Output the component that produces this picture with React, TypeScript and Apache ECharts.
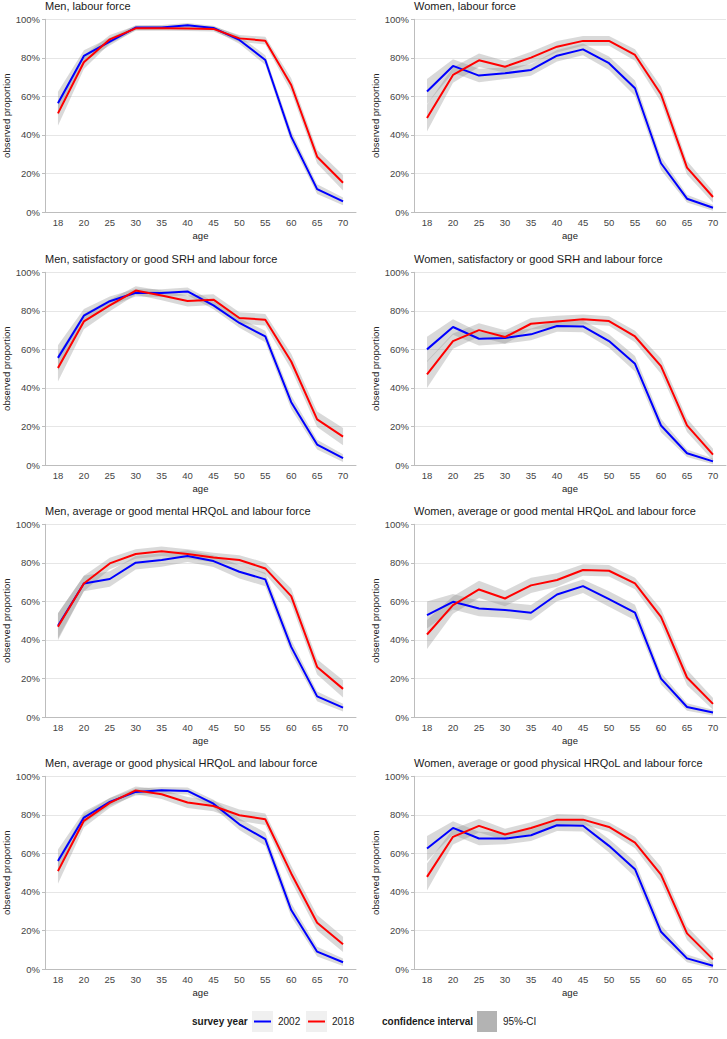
import React, { useEffect, useRef } from "react";
import * as echarts from "echarts";

const ages = ["18", "20", "25", "30", "35", "40", "45", "50", "55", "60", "65", "70"];
const yTicks = [0, 20, 40, 60, 80, 100];

const titles = [
  "Men, labour force",
  "Women, labour force",
  "Men, satisfactory or good SRH and labour force",
  "Women, satisfactory or good SRH and labour force",
  "Men, average or good mental HRQoL and labour force",
  "Women, average or good mental HRQoL and labour force",
  "Men, average or good physical HRQoL and labour force",
  "Women, average or good physical HRQoL and labour force",
];

// observed proportion (%) by age, survey 2002 (blue) and 2018 (red)
const menLF2002 = [56.4, 81, 88.4, 95.7, 95.8, 96.9, 95.5, 89.3, 78.9, 39.1, 11.9, 5.5];
const menLF2018 = [51.2, 77.7, 89.6, 95.3, 95.3, 95.2, 95, 90.1, 88.9, 65.9, 28.7, 15.2];
const womenLF2002 = [62.5, 75.8, 70.8, 72, 73.7, 81.1, 84.4, 77.2, 64.2, 25.3, 6.9, 2.2];
const womenLF2018 = [48.8, 71.1, 78.7, 75.4, 80.1, 85.8, 88.8, 88.8, 81.5, 61.1, 23, 7.8];
const menSRH2002 = [55.6, 77.5, 85, 89.4, 89.2, 90.1, 82.8, 73.7, 66.7, 32.6, 10.6, 3.6];
const menSRH2018 = [50.3, 74.5, 82.8, 90.5, 88, 85.1, 85.8, 76.3, 75.4, 53.7, 23.7, 14.7];
const womenSRH2002 = [60, 71.6, 65.5, 65.9, 67.8, 72.1, 71.9, 64.3, 52.5, 20.5, 6.1, 1.9];
const womenSRH2018 = [47, 64.3, 70, 66.4, 73.3, 74.5, 75.6, 74.7, 66.7, 51.3, 20.6, 5.4];
const menMental2002 = [47.3, 69.3, 71.6, 80.1, 81.5, 83.5, 80.9, 75.4, 71.4, 36.4, 10.7, 4.9];
const menMental2018 = [46.8, 69.3, 79.7, 84.6, 86, 84.6, 82.8, 81.5, 77.1, 62.7, 26, 14.6];
const womenMental2002 = [52.9, 59.8, 56.3, 55.5, 54.1, 63.6, 67.9, 61.2, 54.2, 19.9, 5.2, 2.3];
const womenMental2018 = [42.8, 58.1, 66.2, 61.5, 68.3, 71.1, 76.3, 75.9, 69.3, 52, 20.5, 6.8];
const menPhys2002 = [56, 78.6, 86.7, 91.9, 92.7, 92.4, 85.8, 75.1, 67.4, 30.6, 9, 3.5];
const menPhys2018 = [50.8, 76.9, 86.2, 92.7, 90.7, 86.4, 84.6, 79.8, 77.7, 49.6, 24, 12.8];
const womenPhys2002 = [62.5, 73.2, 67.7, 67.7, 69.4, 74.6, 74.3, 63.9, 51.8, 19.3, 5.5, 1.7];
const womenPhys2018 = [47.8, 68.6, 74.3, 69.8, 73.2, 77.5, 77.5, 73.7, 65.6, 49, 18.5, 5];

// 95%-CI half-widths (percentage points)
const menLF2002ci = [6, 3, 2, 1.2, 1.2, 1.2, 1.2, 2, 2.5, 3, 2.5, 2];
const menLF2018ci = [6.5, 3.5, 2.2, 1.3, 1.3, 1.3, 1.3, 1.8, 2, 3.5, 3.5, 4];
const womenLF2002ci = [6.5, 3.5, 3.5, 3, 3, 3, 3, 3.5, 4, 3.5, 2, 1.5];
const womenLF2018ci = [7, 4, 3.5, 3, 3, 3, 2.5, 2.5, 3, 4, 3.5, 3];
const menSRH2002ci = [6.5, 3.5, 2.5, 2, 2, 2, 2, 2.5, 3, 3.5, 2.5, 2];
const menSRH2018ci = [7, 4, 3, 2.2, 2.5, 2.8, 2.8, 3, 3, 4, 4, 4.5];
const womenSRH2002ci = [6.5, 4, 3.5, 3, 3, 3, 3, 3.5, 4, 3.5, 2, 1.5];
const womenSRH2018ci = [7, 4, 3.5, 3.5, 3, 3, 2.5, 2.5, 3, 4, 3.5, 3];
const menMental2002ci = [6.5, 4, 4, 3.5, 3.5, 3, 3, 3.5, 3.5, 3.5, 2.5, 2];
const menMental2018ci = [7, 4, 3, 2.5, 2.5, 2.5, 2.5, 2.5, 3, 4, 4, 4.5];
const womenMental2002ci = [7, 4, 4, 4, 4, 3.5, 3.5, 4, 4, 3, 2, 1.5];
const womenMental2018ci = [7.5, 4.5, 4.5, 4, 4, 3.5, 3, 3, 3, 4, 4, 3];
const menPhys2002ci = [6, 3, 2, 1.8, 1.8, 1.8, 2, 3, 3.5, 3.5, 2.5, 2];
const menPhys2018ci = [6.5, 3.5, 2.5, 2, 2.5, 2.8, 2.8, 3, 3, 4, 4, 4];
const womenPhys2002ci = [6.5, 3.5, 3.5, 3, 3, 3, 3, 3.5, 4, 3.5, 2, 1.5];
const womenPhys2018ci = [7, 4, 3.5, 3, 3, 3, 2.5, 2.5, 3, 4, 3.5, 3];

const panels = [
  [menLF2002, menLF2018, menLF2002ci, menLF2018ci],
  [womenLF2002, womenLF2018, womenLF2002ci, womenLF2018ci],
  [menSRH2002, menSRH2018, menSRH2002ci, menSRH2018ci],
  [womenSRH2002, womenSRH2018, womenSRH2002ci, womenSRH2018ci],
  [menMental2002, menMental2018, menMental2002ci, menMental2018ci],
  [womenMental2002, womenMental2018, womenMental2002ci, womenMental2018ci],
  [menPhys2002, menPhys2018, menPhys2002ci, menPhys2018ci],
  [womenPhys2002, womenPhys2018, womenPhys2002ci, womenPhys2018ci],
];

const FONT = "'Liberation Sans', Arial, Helvetica, sans-serif";
const BLUE = "#0000ff";
const RED = "#ff0000";
const AXIS = "#bdbdbd";

const colLeft = [45, 414];
const colWidth = [311, 312];
const rowTop = [19.3, 272.3, 524.3, 776.3];
const gridH = 192.7;

function buildOption() {
  const grid: any[] = [];
  const xAxis: any[] = [];
  const yAxis: any[] = [];
  const series: any[] = [];
  const graphic: any[] = [];

  panels.forEach((p, i) => {
    const col = i % 2;
    const row = Math.floor(i / 2);
    grid.push({ left: colLeft[col], top: rowTop[row], width: colWidth[col], height: gridH });
    xAxis.push({
      gridIndex: i,
      type: "category",
      data: ages,
      boundaryGap: true,
      axisLine: { lineStyle: { color: AXIS, width: 1 } },
      axisTick: { alignWithLabel: true, length: 3, lineStyle: { color: AXIS } },
      axisLabel: { interval: 0, fontSize: 9.5, color: "#444", margin: 5, fontFamily: FONT },
      splitLine: { show: false },
      name: "age",
      nameLocation: "middle",
      nameGap: 18,
      nameTextStyle: { fontSize: 9.5, color: "#222", fontFamily: FONT },
    });
    yAxis.push({
      gridIndex: i,
      type: "value",
      min: 0,
      max: 100,
      interval: 20,
      axisLine: { show: true, lineStyle: { color: AXIS, width: 1 } },
      axisTick: { show: true, length: 3, lineStyle: { color: AXIS } },
      axisLabel: { formatter: "{value}%", fontSize: 9.5, color: "#444", margin: 5, fontFamily: FONT },
      splitLine: { show: true, lineStyle: { color: "#e6e6e6", width: 1 } },
      name: "observed proportion",
      nameLocation: "middle",
      nameGap: 34,
      nameTextStyle: { fontSize: 9.5, color: "#222", fontFamily: FONT },
    });

    const [v02, v18, c02, c18] = p as number[][];
    const bands: [number[], number[], string][] = [
      [v02, c02, "b02"],
      [v18, c18, "b18"],
    ];
    bands.forEach(([v, c, key]) => {
      const lower = v.map((x, k) => Math.max(0, x - c[k]));
      const width = v.map((x, k) => x + c[k] - Math.max(0, x - c[k]));
      series.push({
        type: "line",
        xAxisIndex: i,
        yAxisIndex: i,
        stack: key + i,
        data: lower,
        symbol: "none",
        silent: true,
        lineStyle: { opacity: 0 },
        z: 1,
      });
      series.push({
        type: "line",
        xAxisIndex: i,
        yAxisIndex: i,
        stack: key + i,
        data: width,
        symbol: "none",
        silent: true,
        lineStyle: { opacity: 0 },
        areaStyle: { color: "#8c8c8c", opacity: 0.33 },
        z: 1,
      });
    });
    series.push({
      type: "line",
      xAxisIndex: i,
      yAxisIndex: i,
      data: v02,
      symbol: "none",
      lineStyle: { color: BLUE, width: 2 },
      itemStyle: { color: BLUE },
      z: 3,
    });
    series.push({
      type: "line",
      xAxisIndex: i,
      yAxisIndex: i,
      data: v18,
      symbol: "none",
      lineStyle: { color: RED, width: 2 },
      itemStyle: { color: RED },
      z: 4,
    });

    graphic.push({
      type: "text",
      x: colLeft[col],
      y: rowTop[row] - 13,
      style: {
        text: titles[i],
        fill: "#1a1a1a",
        font: `11px ${FONT}`,
        align: "left",
        verticalAlign: "middle",
      },
    });
  });

  const ly = 1021.5;
  const legendText = (x: number, text: string, bold: boolean) => ({
    type: "text",
    x,
    y: ly,
    style: {
      text,
      fill: "#1a1a1a",
      font: `${bold ? "bold " : ""}10px ${FONT}`,
      align: "left",
      verticalAlign: "middle",
    },
  });
  graphic.push(legendText(192, "survey year", true));
  graphic.push({ type: "rect", shape: { x: 252, y: 1011, width: 21, height: 21 }, style: { fill: "#f0f0f0" } });
  graphic.push({ type: "line", shape: { x1: 254, y1: ly, x2: 271, y2: ly }, style: { stroke: BLUE, lineWidth: 2 } });
  graphic.push(legendText(278, "2002", false));
  graphic.push({ type: "rect", shape: { x: 306, y: 1011, width: 21, height: 21 }, style: { fill: "#f0f0f0" } });
  graphic.push({ type: "line", shape: { x1: 308, y1: ly, x2: 325, y2: ly }, style: { stroke: RED, lineWidth: 2 } });
  graphic.push(legendText(332, "2018", false));
  graphic.push(legendText(382, "confidence interval", true));
  graphic.push({ type: "rect", shape: { x: 477, y: 1011, width: 20, height: 21 }, style: { fill: "#b3b3b3" } });
  graphic.push(legendText(503, "95%-CI", false));

  return {
    animation: false,
    backgroundColor: "#ffffff",
    textStyle: { fontFamily: FONT },
    grid,
    xAxis,
    yAxis,
    series,
    graphic,
  };
}

export default function App() {
  const ref = useRef<HTMLDivElement>(null);
  useEffect(() => {
    if (!ref.current) return;
    const chart = echarts.init(ref.current, undefined, { renderer: "svg" });
    chart.setOption(buildOption() as any);
    return () => chart.dispose();
  }, []);
  return (
    <div
      ref={ref}
      style={{ position: "absolute", left: 0, top: 0, width: 727, height: 1039 }}
    />
  );
}
